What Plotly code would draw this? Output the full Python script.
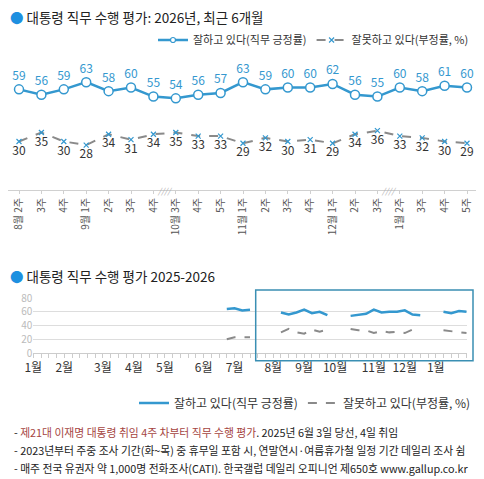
import plotly.graph_objects as go

# top chart: last 6 months, weekly
top_weeks = ["8월 2주", "3주", "4주", "9월 1주", "2주", "3주", "4주",
             "10월 3주", "4주", "5주", "11월 1주", "2주", "3주", "4주",
             "12월 1주", "2주", "3주", "1월 2주", "3주", "4주", "5주"]
top_pos = [59, 56, 59, 63, 58, 60, 55, 54, 56, 57, 63, 59, 60, 60, 62, 56, 55, 60, 58, 61, 60]
top_neg = [30, 35, 30, 28, 34, 31, 34, 35, 33, 33, 29, 32, 30, 31, 29, 34, 36, 33, 32, 30, 29]

# bottom chart: 2025-2026 trend (week number on a Jan 2025 .. Jan 2026 axis)
july_pos = [64, 65, 62, 63]
july_neg = [20, 23, 23, 23]
trend_week = [25, 26, 27, 28, None,
              32, 33, 34, 35, 36, 37, 38, None,
              41, 42, 43, 44, 45, 46, 47, 48, 49, 50, None,
              53, 54, 55, 56]
trend_pos = july_pos + [None] + top_pos[0:7] + [None] + top_pos[7:17] + [None] + top_pos[17:]
trend_neg = july_neg + [None] + top_neg[0:7] + [None] + top_neg[7:17] + [None] + top_neg[17:]
month_labels = ["1월", "2월", "3월", "4월", "5월", "6월", "7월", "8월", "9월", "10월", "11월", "12월", "1월"]
month_week = [0, 4, 9, 13, 17, 22, 26, 31, 35, 39, 44, 48, 52]

POS_NAME = "잘하고 있다(직무 긍정률)"
NEG_NAME = "잘못하고 있다(부정률, %)"

# page body adds an 8px margin, so the figure is a bit smaller than the window
OFF = 8
W, H = 484 - OFF, 479 - OFF
FONT = "Noto Sans CJK KR"
BLUE = "#3498cf"
GRAY = "#8a8a8a"


def px(x):
    # window pixel -> paper fraction
    return (x - OFF) / W


def py(y):
    return 1 - (y - OFF) / H


fig = go.Figure()

idx = list(range(len(top_weeks)))
fig.add_trace(go.Scatter(
    x=idx, y=top_pos, mode="lines+markers+text", name=POS_NAME, showlegend=False,
    text=top_pos, textposition="top center", textfont=dict(color=BLUE, size=12),
    line=dict(color=BLUE, width=2.5),
    marker=dict(symbol="circle", size=9, color="white", line=dict(color=BLUE, width=1.5)),
    cliponaxis=False, xaxis="x", yaxis="y"))
fig.add_trace(go.Scatter(
    x=idx, y=top_neg, mode="lines+markers+text", name=NEG_NAME, showlegend=False,
    text=top_neg, textposition="bottom center", textfont=dict(color="#333333", size=12),
    line=dict(color=GRAY, width=2, dash="dash"),
    marker=dict(symbol="x-thin", size=5, color=BLUE, line=dict(color=BLUE, width=1.2)),
    cliponaxis=False, xaxis="x", yaxis="y"))

# legend entries for the top chart (smaller markers than on the lines)
fig.add_trace(go.Scatter(
    x=[None], y=[None], mode="lines+markers", name=POS_NAME, legend="legend",
    line=dict(color=BLUE, width=2.5),
    marker=dict(symbol="circle", size=5, color="white", line=dict(color=BLUE, width=1.2)),
    xaxis="x", yaxis="y"))
fig.add_trace(go.Scatter(
    x=[None], y=[None], mode="lines+markers", name=NEG_NAME, legend="legend",
    line=dict(color=GRAY, width=2, dash="dash"),
    marker=dict(symbol="x-thin", size=5, color=BLUE, line=dict(color=BLUE, width=1.2)),
    xaxis="x", yaxis="y"))

fig.add_trace(go.Scatter(
    x=trend_week, y=trend_pos, mode="lines", name=POS_NAME,
    line=dict(color=BLUE, width=2.5), connectgaps=False,
    xaxis="x2", yaxis="y2", legend="legend2"))
fig.add_trace(go.Scatter(
    x=trend_week, y=trend_neg, mode="lines", name=NEG_NAME,
    line=dict(color=GRAY, width=2, dash="dash"), connectgaps=False,
    xaxis="x2", yaxis="y2", legend="legend2"))

fig.update_layout(
    width=W, height=H, margin=dict(l=0, r=0, t=0, b=0, autoexpand=False),
    paper_bgcolor="white", plot_bgcolor="white",
    font=dict(family=FONT, color="#333333", size=12),
    xaxis=dict(domain=[px(8), px(478.2)], range=[-0.491, 20.5], automargin=False,
               tickvals=idx, ticktext=top_weeks, tickangle=-90,
               tickfont=dict(size=10, color="#555555"),
               showline=True, linecolor="#d0d0d0", linewidth=1,
               ticks="outside", ticklen=3, tickcolor="#d0d0d0",
               showgrid=False, zeroline=False, fixedrange=True),
    yaxis=dict(domain=[py(190), py(66)], range=[3, 72], visible=False, automargin=False),
    xaxis2=dict(domain=[px(33.3), px(466.7)], range=[0, 56], anchor="y2", automargin=False,
                tickvals=month_week, ticktext=month_labels,
                tickfont=dict(size=12, color="#333333"),
                showline=True, linecolor="#cccccc", linewidth=1,
                ticks="outside", ticklen=4, tickcolor="#cccccc",
                minor=dict(ticks="outside", dtick=1, ticklen=4, tickcolor="#cccccc"),
                showgrid=False, zeroline=False),
    yaxis2=dict(domain=[py(353), py(298)], range=[0, 80], anchor="x2", automargin=False,
                tickvals=[0, 20, 40, 60, 80], tickfont=dict(size=10, color="#bbbbbb"),
                gridcolor="#dddddd", showgrid=True, zeroline=False, ticks=""),
    legend=dict(orientation="h", x=px(474), xanchor="right", y=py(40), yanchor="middle",
                font=dict(size=11, color="#333333"), bgcolor="rgba(0,0,0,0)",
                itemwidth=30, tracegroupgap=0),
    legend2=dict(orientation="h", x=px(476), xanchor="right", y=py(403), yanchor="middle",
                 font=dict(size=12, color="#333333"), bgcolor="rgba(0,0,0,0)",
                 itemwidth=30),
    showlegend=True,
)

# titles
fig.add_annotation(x=px(8), y=py(17), xref="paper", yref="paper", xanchor="left", yanchor="middle",
                   text="<span style='color:#1e90e0'>●</span> 대통령 직무 수행 평가: 2026년, 최근 6개월",
                   showarrow=False, font=dict(size=13.5, color="#222222"))
fig.add_annotation(x=px(8), y=py(276), xref="paper", yref="paper", xanchor="left", yanchor="middle",
                   text="<span style='color:#1e90e0'>●</span> 대통령 직무 수행 평가 2025-2026",
                   showarrow=False, font=dict(size=13.5, color="#222222"))

# axis break marks
for bx in [6.5, 16.5]:
    fig.add_annotation(x=bx, y=3, xref="x", yref="y", text="<i>////</i>", showarrow=False,
                       font=dict(size=8, color="#aaaaaa"), yanchor="middle")

# highlighted 6-month window
fig.add_shape(type="rect", xref="paper", yref="paper",
              x0=px(255.7), x1=px(473), y0=py(360.7), y1=py(290),
              line=dict(color="#3a8fb3", width=1.5))

notes = [
    "- <span style='color:#a5453f'>제21대 이재명 대통령 취임 4주 차부터 직무 수행 평가</span>. 2025년 6월 3일 당선, 4일 취임",
    "- 2023년부터 주중 조사 기간(화~목) 중 휴무일 포함 시, 연말연시·여름휴가철 일정 기간 데일리 조사 쉼",
    "- 매주 전국 유권자 약 1,000명 전화조사(CATI). 한국갤럽 데일리 오피니언 제650호 www.gallup.co.kr",
]
for i, t in enumerate(notes):
    fig.add_annotation(x=px(12), y=py(432 + 18 * i), xref="paper", yref="paper",
                       xanchor="left", yanchor="middle", text=t, showarrow=False,
                       font=dict(size=10.8, color="#222222"))

fig.write_html("out.html")
